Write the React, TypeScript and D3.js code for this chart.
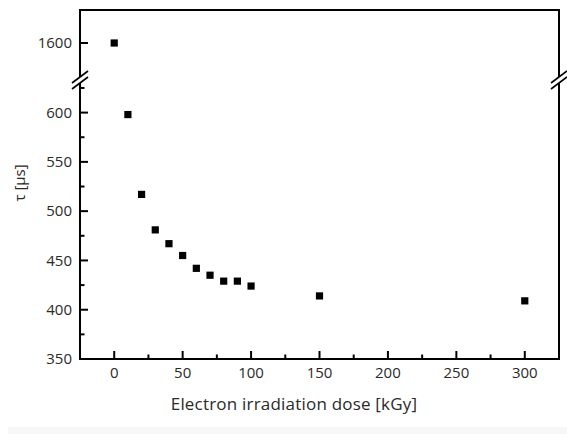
import React from "react";
import * as d3 from "d3";

const doses = [0, 10, 20, 30, 40, 50, 60, 70, 80, 90, 100, 150, 300];
const tau = [1600, 598, 517, 481, 467, 455, 442, 435, 429, 429, 424, 414, 409];
const xTicks = [0, 50, 100, 150, 200, 250, 300];
const xMinor = [-25, 25, 75, 125, 175, 225, 275, 325];
const yTicksLow = [350, 400, 450, 500, 550, 600];
const yMinorLow = [375, 425, 475, 525, 575, 625];
const yTicksHigh = [1600];

const W = 567, H = 434;
const L = 80, R = 559, T = 10, B = 359;
const breakY = 80;

export default function App() {
  const x = d3.scaleLinear().domain([-25, 325]).range([L, R]);
  const yLow = d3.scaleLinear().domain([350, 628]).range([B, 85]);
  const yHigh = d3.scaleLinear().domain([1563, 1633]).range([breakY, T]);
  const y = (v: number) => (v >= 1000 ? yHigh(v) : yLow(v));
  const font = "'Open Sans', 'Noto Sans', sans-serif";
  const txt = "#2a2a2a";

  const breakMark = (cx: number, key: string) => (
    <g key={key}>
      <polygon
        points={`${cx - 8},${breakY + 6} ${cx + 8},${breakY - 6} ${cx + 8},${breakY - 12} ${cx - 8},${breakY}`}
        transform={`translate(0,3)`}
        fill="white"
      />
      <line x1={cx - 8} y1={breakY + 9} x2={cx + 8} y2={breakY - 3} stroke="black" strokeWidth={1.6} />
      <line x1={cx - 8} y1={breakY + 3} x2={cx + 8} y2={breakY - 9} stroke="black" strokeWidth={1.6} />
    </g>
  );

  return (
    <svg width={W} height={H} style={{ position: "absolute", left: 0, top: 0 }}>
      <rect x={0} y={0} width={W} height={H} fill="white" />
      <rect x={8} y={427} width={559} height={7} fill="#f7f7f7" />
      <path d={`M${L},${T} H${R} V${B} H${L} Z`} fill="none" stroke="black" strokeWidth={2} />
      {xTicks.map((t) => (
        <g key={"xt" + t}>
          <line x1={x(t)} x2={x(t)} y1={B} y2={B - 8} stroke="black" strokeWidth={2} />
          <text x={x(t)} y={378} textAnchor="middle" fontSize={15} fontFamily={font} fill={txt}>{t}</text>
        </g>
      ))}
      {xMinor.filter((t) => x(t) > L + 1 && x(t) < R - 1).map((t) => (
        <line key={"xm" + t} x1={x(t)} x2={x(t)} y1={B} y2={B - 4.5} stroke="black" strokeWidth={2} />
      ))}
      {yTicksLow.map((t) => (
        <g key={"yt" + t}>
          <line x1={L} x2={L + 8} y1={yLow(t)} y2={yLow(t)} stroke="black" strokeWidth={2} />
          <text x={72} y={yLow(t)} dy="0.35em" textAnchor="end" fontSize={15} fontFamily={font} fill={txt}>{t}</text>
        </g>
      ))}
      {yMinorLow.map((t) => (
        <line key={"ym" + t} x1={L} x2={L + 4.5} y1={yLow(t)} y2={yLow(t)} stroke="black" strokeWidth={2} />
      ))}
      {yTicksHigh.map((t) => (
        <g key={"yh" + t}>
          <line x1={L} x2={L + 8} y1={yHigh(t)} y2={yHigh(t)} stroke="black" strokeWidth={2} />
          <text x={72} y={yHigh(t)} dy="0.35em" textAnchor="end" fontSize={15} fontFamily={font} fill={txt}>{t}</text>
        </g>
      ))}
      {breakMark(L, "bl")}
      {breakMark(R, "br")}
      {doses.map((d, i) => (
        <rect key={"p" + i} x={x(d) - 3.6} y={y(tau[i]) - 3.6} width={7.2} height={7.2} fill="black" />
      ))}
      <text x={294} y={410} textAnchor="middle" fontSize={17} letterSpacing={0.2} fontFamily={font} fill={txt}>
        Electron irradiation dose [kGy]
      </text>
      <text
        transform={`translate(25,183) rotate(-90)`}
        textAnchor="middle"
        fontSize={15}
        fontFamily={font}
        fill={txt}
      >
        τ [µs]
      </text>
    </svg>
  );
}
